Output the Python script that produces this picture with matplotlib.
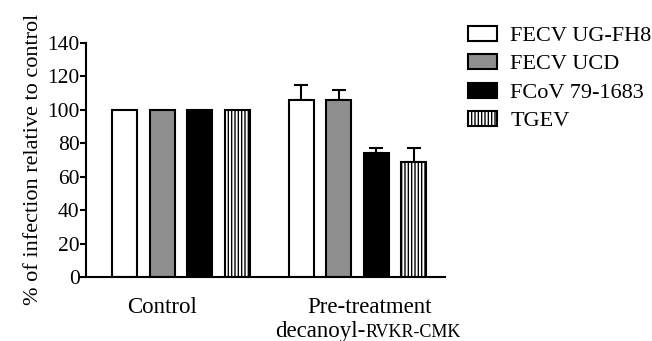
import numpy as np
import matplotlib.pyplot as plt
from matplotlib.offsetbox import TextArea, HPacker, AnnotationBbox

plt.rcParams['font.family'] = ['Liberation Serif']
plt.rcParams['hatch.linewidth'] = 1.0

groups = ['Control', 'Pre-treatment']
series = ['FECV UG-FH8', 'FECV UCD', 'FCoV 79-1683', 'TGEV']
values = {
    'FECV UG-FH8': [100, 106],
    'FECV UCD': [100, 106],
    'FCoV 79-1683': [100, 74],
    'TGEV': [100, 68.5],
}
errors = {
    'FECV UG-FH8': [0, 9],
    'FECV UCD': [0, 6],
    'FCoV 79-1683': [0, 3],
    'TGEV': [0, 8.5],
}
colors = ['white', '#8f8f8f', 'black', 'white']
hatches = [None, None, None, '|||||']

fig = plt.figure(figsize=(6.52, 3.41), dpi=100)
ax = fig.add_axes([0.1319, 0.1877, 0.5506, 0.6871])

x = np.arange(len(groups))
step = 0.2125
width = 0.142
for i, s in enumerate(series):
    pos = x + (i - 1.5) * step
    ax.bar(pos, values[s], width, color=colors[i], edgecolor='black',
           linewidth=1.5, hatch=hatches[i], label=s, zorder=2)
    err = np.array(errors[s])
    ax.errorbar(pos[err > 0], np.array(values[s])[err > 0],
                yerr=[np.zeros((err > 0).sum()), err[err > 0]],
                fmt='none', ecolor='black', elinewidth=1.5, capsize=4.7,
                capthick=1.5, zorder=1)

ax.set_xlim(-0.538, 1.496)
ax.set_ylim(0, 140)
ax.set_yticks(np.arange(0, 141, 20))
ax.tick_params(axis='y', labelsize=15.5, width=1.5, length=4, pad=0.5)
ax.set_xticks([])
for sp in ['top', 'right']:
    ax.spines[sp].set_visible(False)
for sp in ['left', 'bottom']:
    ax.spines[sp].set_linewidth(1.5)

ax.set_ylabel('% of infection relative to control', fontsize=16, labelpad=3)

# x group labels
ax.text(-0.105, -12, 'Control', ha='center', va='top', fontsize=16.5)
ax.text(1.07, -12, 'Pre-treatment', ha='center', va='top', fontsize=16.5)
line2 = HPacker(children=[TextArea('decanoyl-', textprops=dict(fontsize=16.5)),
                          TextArea('RVKR-CMK', textprops=dict(fontsize=13))],
                align='baseline', pad=0, sep=0)
ab = AnnotationBbox(line2, (1.06, -26.5), xycoords='data', box_alignment=(0.5, 1),
                    frameon=False, annotation_clip=False)
ax.add_artist(ab)

ax.legend(loc='upper left', bbox_to_anchor=(1.04, 1.11), frameon=False,
          fontsize=16, handlelength=1.3, handleheight=0.65, labelspacing=0.37,
          handletextpad=0.6, borderaxespad=0)

fig.savefig('out.png', dpi=100)
